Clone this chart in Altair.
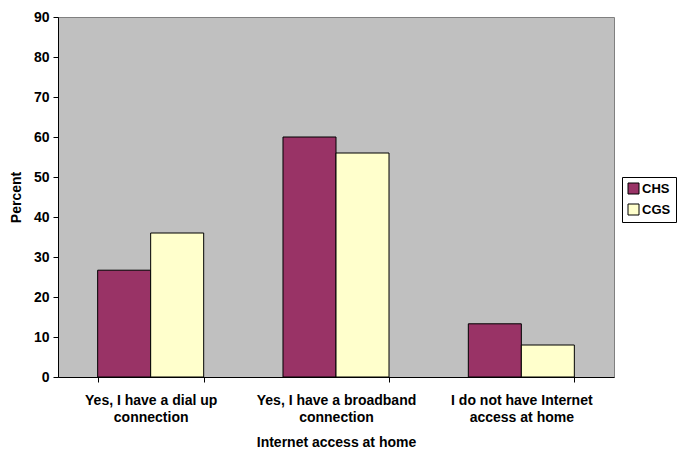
import altair as alt
import pandas as pd

categories = ["Yes, I have a dial up\nconnection", "Yes, I have a broadband\nconnection", "I do not have Internet\naccess at home"]
series = ["CHS", "CGS"]
chs = [26.7, 60.0, 13.3]
cgs = [36.0, 56.0, 8.0]
colors = ["#993366", "#FFFFCC"]
y_ticks = [0, 10, 20, 30, 40, 50, 60, 70, 80, 90]

rows = []
for i, c in enumerate(categories):
    rows.append({"cat": c, "series": "CHS", "value": chs[i]})
    rows.append({"cat": c, "series": "CGS", "value": cgs[i]})
df = pd.DataFrame(rows)

FONT = "Liberation Sans"

chart = alt.Chart(df).mark_bar(stroke="black", strokeWidth=1).encode(
    x=alt.X("cat:N", sort=categories,
            scale=alt.Scale(paddingInner=0.428, paddingOuter=0.214),
            axis=alt.Axis(title="Internet access at home", labelAngle=0,
                          labelExpr="split(datum.label, '\\n')",
                          tickBand="extent", tickSize=5, tickColor="black",
                          domainColor="black", labelPadding=11,
                          labelLineHeight=17, titlePadding=11)),
    xOffset=alt.XOffset("series:N", sort=series),
    y=alt.Y("value:Q", scale=alt.Scale(domain=[0, 90], nice=False),
            axis=alt.Axis(title="Percent", values=y_ticks, grid=False,
                          tickSize=5, tickColor="black", domainColor="black",
                          labelPadding=4, titlePadding=10)),
    color=alt.Color("series:N", sort=series,
                    scale=alt.Scale(domain=series, range=colors),
                    legend=alt.Legend(title=None, orient="none",
                                      legendX=564, legendY=160,
                                      strokeColor="black", fillColor="white",
                                      padding=5, symbolType="square",
                                      symbolSize=121, symbolStrokeColor="black",
                                      symbolStrokeWidth=1, rowPadding=6,
                                      labelOffset=2)),
).properties(
    width=556, height=360,
    padding={"left": 50, "top": 9, "right": 63, "bottom": 75},
    autosize=alt.AutoSizeParams(type="none"),
).configure_view(
    fill="#C0C0C0", stroke="#808080", strokeWidth=1
).configure_axis(
    labelFont=FONT, titleFont=FONT, labelFontSize=14, titleFontSize=14,
    labelFontWeight="bold", titleFontWeight="bold",
    labelColor="black", titleColor="black"
).configure_legend(
    labelFont=FONT, labelFontSize=13, labelFontWeight="bold", labelColor="black"
)

chart.save("out.html", embed_options={"renderer": "svg", "actions": False})
